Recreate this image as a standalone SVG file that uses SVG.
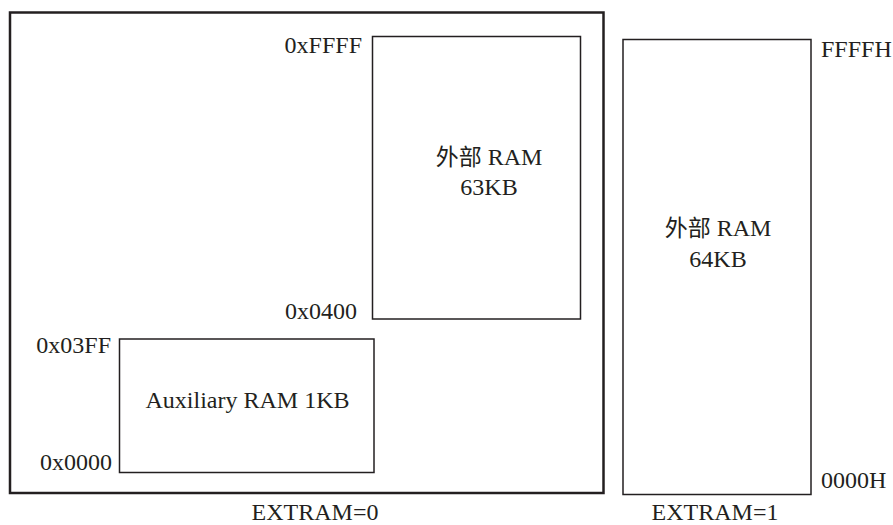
<svg xmlns="http://www.w3.org/2000/svg" width="893" height="525" viewBox="0 0 893 525">
<style>
text{font-family:"Liberation Serif","Times New Roman","DejaVu Serif",serif;font-size:24px;fill:#231f20}
.cjk{font-family:"Noto Sans CJK SC","Noto Sans CJK JP",sans-serif;font-size:23px}
.box{fill:none;stroke:#231f20;stroke-width:1.5}
.outer{fill:none;stroke:#231f20;stroke-width:2.5}
.m{text-anchor:middle}
.e{text-anchor:end}
</style>
<rect width="893" height="525" fill="#fff"/>
<g id="extram0">
<rect class="outer" x="10" y="12.5" width="593.5" height="480.5"/>
<text class="m" x="315" y="520">EXTRAM=0</text>
</g>
<g id="ext63">
<rect class="box" x="372.5" y="36.5" width="208" height="282.5"/>
<text class="m" x="489" y="165"><tspan class="cjk">外部</tspan> RAM</text>
<text class="m" x="489" y="195">63KB</text>
<text class="e" x="362" y="53">0xFFFF</text>
<text class="e" x="357" y="319">0x0400</text>
</g>
<g id="aux">
<rect class="box" x="119.5" y="339" width="254.5" height="133.5"/>
<text class="m" x="247.5" y="408">Auxiliary RAM 1KB</text>
<text class="e" x="111" y="353">0x03FF</text>
<text class="e" x="112" y="470">0x0000</text>
</g>
<g id="ext64">
<rect class="box" x="623" y="39.5" width="188" height="455"/>
<text class="m" x="718" y="236"><tspan class="cjk">外部</tspan> RAM</text>
<text class="m" x="718" y="267">64KB</text>
<text x="821" y="57">FFFFH</text>
<text x="821" y="488">0000H</text>
<text class="m" x="715" y="520">EXTRAM=1</text>
</g>
<g id="connectors"></g>
</svg>
